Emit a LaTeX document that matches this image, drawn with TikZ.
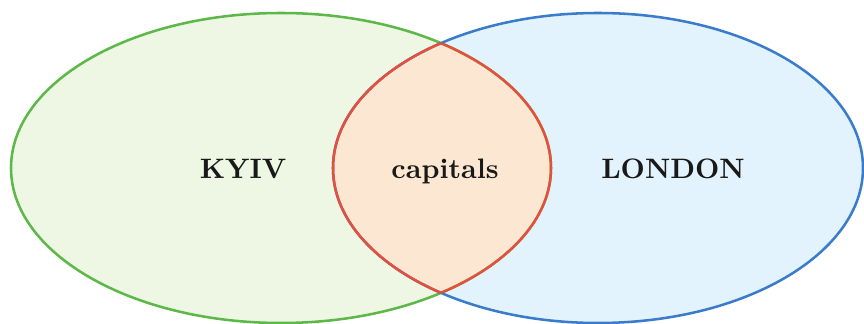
\documentclass[tikz,border=0pt]{standalone}
\usetikzlibrary{positioning}
\definecolor{cgreen}{HTML}{5DB84A}
\definecolor{cblue}{HTML}{3A7CCB}
\definecolor{cred}{HTML}{E5503C}
\definecolor{fgreen}{HTML}{EDF7E3}
\definecolor{fblue}{HTML}{E3F3FD}
\definecolor{fpeach}{HTML}{FCE7D2}
\tikzset{
  every picture/.style={line width=0.9pt},
  label/.style={font=\fontsize{10}{12}\selectfont\bfseries, text=black!90, inner sep=2pt, anchor=base},
}
\newcommand{\leftset}{(281,168) ellipse [x radius=270, y radius=155]}
\newcommand{\rightset}{(598,168) ellipse [x radius=265, y radius=155]}

\begin{document}
\begin{tikzpicture}[x=0.0125cm, y=-0.0125cm]
  \useasboundingbox (0,0) rectangle (864,324);
  \fill[fgreen] \leftset;
  \fill[fblue] \rightset;
  \begin{scope}
    \clip \leftset;
    \fill[fpeach] \rightset;
  \end{scope}
  \draw[cgreen] \leftset;
  \draw[cblue] \rightset;
  \begin{scope}
    \clip \leftset;
    \draw[cred] \rightset;
  \end{scope}
  \begin{scope}
    \clip \rightset;
    \draw[cred] \leftset;
  \end{scope}
  \node[label] (kyiv) at (243,179) {KYIV};
  \node[label] (caps) at (445,179) {capitals};
  \node[label] (london) at (673,179) {LONDON};
\end{tikzpicture}
\end{document}
